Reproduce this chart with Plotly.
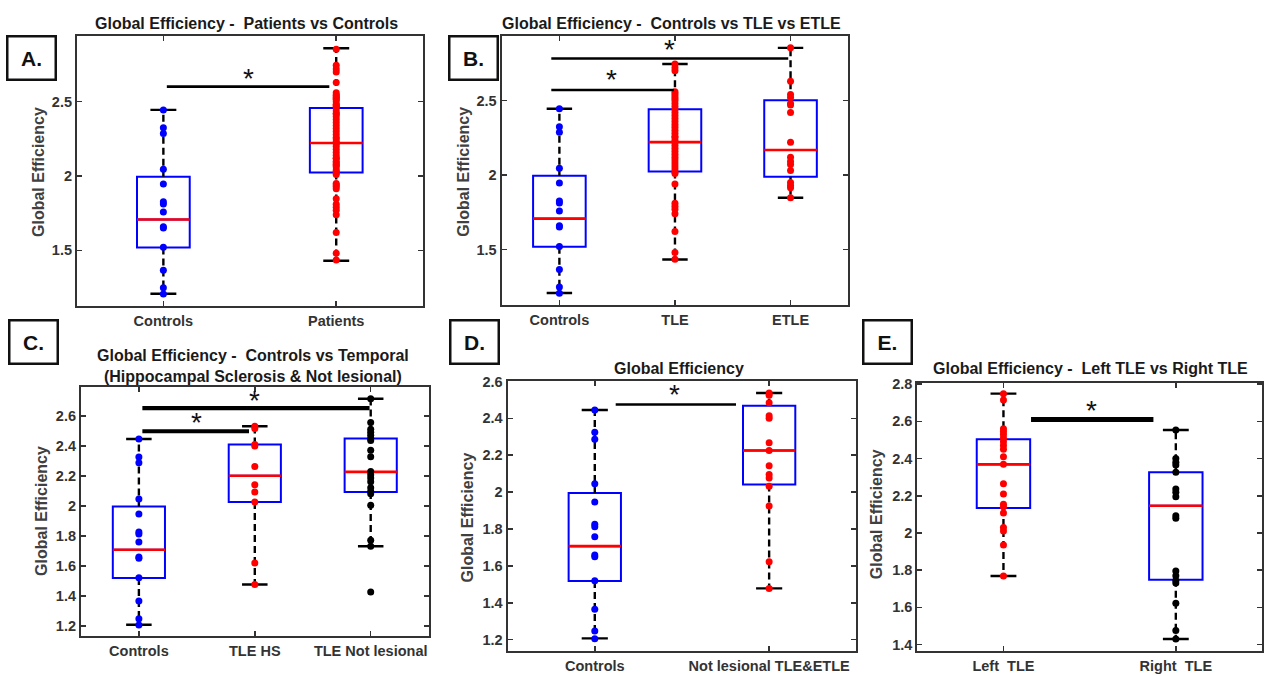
import plotly.graph_objects as go

W, H = 1264, 676

# ---------------- data ----------------
controls = [2.445, 2.325, 2.287, 2.046, 1.946, 1.826, 1.812, 1.758, 1.659, 1.650, 1.520, 1.365, 1.247, 1.205]
tle = [2.745, 2.72, 2.70, 2.56, 2.545, 2.53, 2.515, 2.50, 2.48, 2.46, 2.44, 2.42, 2.40, 2.38, 2.36, 2.34,
       2.32, 2.30, 2.28, 2.26, 2.25, 2.23, 2.22, 2.20, 2.18, 2.16, 2.14, 2.12, 2.10, 2.08, 2.06, 2.04,
       2.02, 2.01, 1.94, 1.81, 1.79, 1.77, 1.74, 1.62, 1.48, 1.435]
etle = [2.854, 2.63, 2.54, 2.52, 2.48, 2.47, 2.42, 2.22, 2.12, 2.09, 2.07, 2.03, 1.95, 1.93, 1.915, 1.847]
patients = tle + etle
tle_hs = [2.530, 2.516, 2.409, 2.398, 2.262, 2.141, 2.092, 2.026, 1.618, 1.475]
tle_nl = [2.714, 2.556, 2.51, 2.49, 2.47, 2.448, 2.435, 2.37, 2.327, 2.229, 2.207, 2.185, 2.16, 2.12,
          2.095, 2.08, 2.004, 1.771, 1.73, 1.426]
nl_tle_etle = [2.537, 2.525, 2.485, 2.414, 2.40, 2.267, 2.226, 2.143, 2.095, 2.077, 2.032, 1.925, 1.623, 1.478]
left_tle = [2.749, 2.715, 2.56, 2.545, 2.53, 2.51, 2.49, 2.47, 2.45, 2.41, 2.37, 2.265, 2.21, 2.155,
            2.14, 2.107, 2.03, 2.01, 1.935, 1.769]
right_tle = [2.554, 2.40, 2.38, 2.365, 2.327, 2.236, 2.219, 2.195, 2.093, 2.079, 1.795, 1.77, 1.745,
             1.731, 1.622, 1.476, 1.43]

# box statistics per group: (q1, median, q3, lower whisker, upper whisker)
stats_controls = (1.518, 1.707, 1.995, 1.207, 2.445)
stats_patients = (2.024, 2.222, 2.458, 1.429, 2.860)
stats_tle = (2.024, 2.221, 2.442, 1.432, 2.746)
stats_etle = (1.989, 2.168, 2.502, 1.847, 2.854)
stats_tle_hs = (2.026, 2.200, 2.409, 1.475, 2.530)
stats_tle_nl = (2.092, 2.226, 2.448, 1.730, 2.714)
stats_nl_tle_etle = (2.041, 2.226, 2.468, 1.478, 2.537)
stats_left = (2.134, 2.369, 2.504, 1.769, 2.749)
stats_right = (1.749, 2.146, 2.327, 1.430, 2.554)

BLUE, RED, BLACK = "#0000ff", "#ff0000", "#000000"

panels = [
    dict(label="A.", title="Global Efficiency -  Patients vs Controls",
         cats=["Controls", "Patients"],
         groups=[(controls, stats_controls, BLUE), (patients, stats_patients, RED)],
         yticks=[1.5, 2, 2.5], yticktext=["1.5", "2", "2.5"], yrange=[1.122, 2.945],
         sig=[((1.02, 1.96), 2.602, (1.49, 2.68))], sigw=2.6,
         px=(77, 423, 29, 303), bw=0.305, cw=0.15, lab=(32, 52), ylab=(38, 167), tit=(247, 17)),
    dict(label="B.", title="Global Efficiency -  Controls vs TLE vs ETLE",
         cats=["Controls", "TLE", "ETLE"],
         groups=[(controls, stats_controls, BLUE), (tle, stats_tle, RED), (etle, stats_etle, RED)],
         yticks=[1.5, 2, 2.5], yticktext=["1.5", "2", "2.5"], yrange=[1.124, 2.936],
         sig=[((0.93, 2.98), 2.783, (1.95, 2.865)), ((0.93, 1.99), 2.571, (1.45, 2.659))], sigw=2.6,
         px=(502, 849, 29, 302), bw=0.455, cw=0.22, lab=(474, 52), ylab=(463, 167), tit=(672, 17)),
    dict(label="C.", title="Global Efficiency -  Controls vs Temporal<br>(Hippocampal Sclerosis & Not lesional)",
         cats=["Controls", "TLE HS", "TLE Not lesional"],
         groups=[(controls, stats_controls, BLUE), (tle_hs, stats_tle_hs, RED), (tle_nl, stats_tle_nl, BLACK)],
         yticks=[1.2, 1.4, 1.6, 1.8, 2.0, 2.2, 2.4, 2.6],
         yticktext=["1.2", "1.4", "1.6", "1.8", "2", "2.2", "2.4", "2.6"], yrange=[1.129, 2.789],
         sig=[((1.03, 2.99), 2.651, (2.0, 2.719)), ((1.03, 1.95), 2.497, (1.50, 2.576))], sigw=4.2,
         px=(81, 429, 385, 637), bw=0.45, cw=0.22, lab=(34, 339), ylab=(42, 510), tit=(253, 363)),
    dict(label="D.", title="Global Efficiency",
         cats=["Controls", "Not lesional TLE&ETLE"],
         groups=[(controls, stats_controls, BLUE), (nl_tle_etle, stats_nl_tle_etle, RED)],
         yticks=[1.2, 1.4, 1.6, 1.8, 2.0, 2.2, 2.4, 2.6],
         yticktext=["1.2", "1.4", "1.6", "1.8", "2", "2.2", "2.4", "2.6"], yrange=[1.137, 2.605],
         sig=[((1.12, 1.81), 2.475, (1.46, 2.543))], sigw=2.6,
         px=(508, 857, 378, 652), bw=0.30, cw=0.15, lab=(475, 339), ylab=(468, 517), tit=(680, 366)),
    dict(label="E.", title="Global Efficiency -  Left TLE vs Right TLE",
         cats=["Left  TLE", "Right  TLE"],
         groups=[(left_tle, stats_left, RED), (right_tle, stats_right, BLACK)],
         yticks=[1.4, 1.6, 1.8, 2.0, 2.2, 2.4, 2.6, 2.8],
         yticktext=["1.4", "1.6", "1.8", "2", "2.2", "2.4", "2.6", "2.8"], yrange=[1.364, 2.809],
         sig=[((1.16, 1.87), 2.61, (1.51, 2.676))], sigw=5.0,
         px=(918, 1263, 380, 652), bw=0.31, cw=0.15, lab=(888, 339), ylab=(878, 513), tit=(1091, 366)),
]

FONT = "Liberation Sans, Arial, sans-serif"
AXC = "#333333"

fig = go.Figure()
annotations = []
layout_axes = {}

for i, p in enumerate(panels):
    n = i + 1
    xa = "x" if n == 1 else f"x{n}"
    ya = "y" if n == 1 else f"y{n}"
    xkey = "xaxis" if n == 1 else f"xaxis{n}"
    ykey = "yaxis" if n == 1 else f"yaxis{n}"
    l, r, t, b = p["px"]
    pos = list(range(1, len(p["cats"]) + 1))
    bw, cw = p["bw"], p["cw"]

    # boxes (blue)
    fig.add_trace(go.Box(
        x=pos, q1=[g[1][0] for g in p["groups"]], median=[g[1][1] for g in p["groups"]],
        q3=[g[1][2] for g in p["groups"]], lowerfence=[g[1][0] for g in p["groups"]],
        upperfence=[g[1][2] for g in p["groups"]], width=bw, whiskerwidth=0,
        line=dict(color=BLUE, width=2.0), fillcolor="rgba(0,0,0,0)", boxpoints=False,
        hoverinfo="skip", xaxis=xa, yaxis=ya, showlegend=False))

    wx, wy, cx, cy, mx, my = [], [], [], [], [], []
    for k, (vals, st, col) in zip(pos, p["groups"]):
        q1, med, q3, lw, uw = st
        wx += [k, k, None, k, k, None]
        wy += [q3, uw, None, q1, lw, None]
        cx += [k - cw / 2, k + cw / 2, None, k - cw / 2, k + cw / 2, None]
        cy += [uw, uw, None, lw, lw, None]
        mx += [k - bw / 2, k + bw / 2, None]
        my += [med, med, None]
    fig.add_trace(go.Scatter(x=wx, y=wy, mode="lines", line=dict(color=BLACK, width=2.4, dash="7px,4px"),
                             hoverinfo="skip", xaxis=xa, yaxis=ya, showlegend=False))
    fig.add_trace(go.Scatter(x=cx, y=cy, mode="lines", line=dict(color=BLACK, width=2.4),
                             hoverinfo="skip", xaxis=xa, yaxis=ya, showlegend=False))
    fig.add_trace(go.Scatter(x=mx, y=my, mode="lines", line=dict(color=RED, width=2.6),
                             hoverinfo="skip", xaxis=xa, yaxis=ya, showlegend=False))
    for k, (vals, st, col) in zip(pos, p["groups"]):
        fig.add_trace(go.Scatter(x=[k] * len(vals), y=vals, mode="markers",
                                 marker=dict(color=col, size=7, line=dict(width=0)),
                                 hoverinfo="skip", xaxis=xa, yaxis=ya, showlegend=False))
    # significance bars
    for (x0, x1), yb, (ax, ay) in p["sig"]:
        fig.add_trace(go.Scatter(x=[x0, x1], y=[yb, yb], mode="lines",
                                 line=dict(color=BLACK, width=p["sigw"]),
                                 hoverinfo="skip", xaxis=xa, yaxis=ya, showlegend=False))
        annotations.append(dict(x=ax, y=ay, xref=xa, yref=ya, text="*", showarrow=False,
                                font=dict(family=FONT, size=28, color="#111111"),
                                yshift=-3))

    layout_axes[xkey] = dict(domain=[l / W, r / W], range=[0.5, len(pos) + 0.5], anchor=ya,
                             tickvals=pos, ticktext=p["cats"], ticks="inside", ticklen=5, tickwidth=1.5,
                             tickcolor=AXC, showline=True, linecolor=AXC, linewidth=2, mirror="allticks",
                             showgrid=False, zeroline=False, fixedrange=True,
                             tickfont=dict(family=FONT, size=14.5, color=AXC, weight="bold"))
    layout_axes[ykey] = dict(domain=[1 - b / H, 1 - t / H], range=p["yrange"], anchor=xa,
                             tickvals=p["yticks"], ticktext=p["yticktext"], ticks="inside", ticklen=5,
                             tickwidth=1.5, tickcolor=AXC, showline=True, linecolor=AXC, linewidth=2,
                             mirror="allticks", showgrid=False, zeroline=False, fixedrange=True,
                             tickfont=dict(family=FONT, size=14.5, color=AXC, weight="bold"))

    # panel label box
    annotations.append(dict(x=p["lab"][0] / W, y=1 - p["lab"][1] / H, xref="paper", yref="paper",
                            text="<b>" + p["label"] + "</b>", showarrow=False, xanchor="center",
                            yanchor="middle", width=44, height=39, borderpad=1, bordercolor="#111111",
                            borderwidth=2.5, bgcolor="white",
                            font=dict(family=FONT, size=21, color="#111111")))
    # title
    annotations.append(dict(x=p["tit"][0] / W, y=1 - p["tit"][1] / H, xref="paper", yref="paper",
                            text=p["title"], showarrow=False, xanchor="center", yanchor="middle",
                            font=dict(family=FONT, size=16, color="#1a1a1a", weight="bold")))
    # y axis label
    annotations.append(dict(x=p["ylab"][0] / W, y=1 - p["ylab"][1] / H, xref="paper", yref="paper",
                            text="Global Efficiency", showarrow=False, textangle=-90,
                            xanchor="center", yanchor="middle",
                            font=dict(family=FONT, size=16, color="#404040", weight="bold")))

fig.update_layout(width=W, height=H, margin=dict(l=0, r=0, t=0, b=0), paper_bgcolor="white",
                  plot_bgcolor="white", showlegend=False, hovermode=False,
                  annotations=annotations, **layout_axes)

fig.write_html("out.html", config={"displayModeBar": False, "staticPlot": True},
               post_script="document.body.style.margin='0px';")
